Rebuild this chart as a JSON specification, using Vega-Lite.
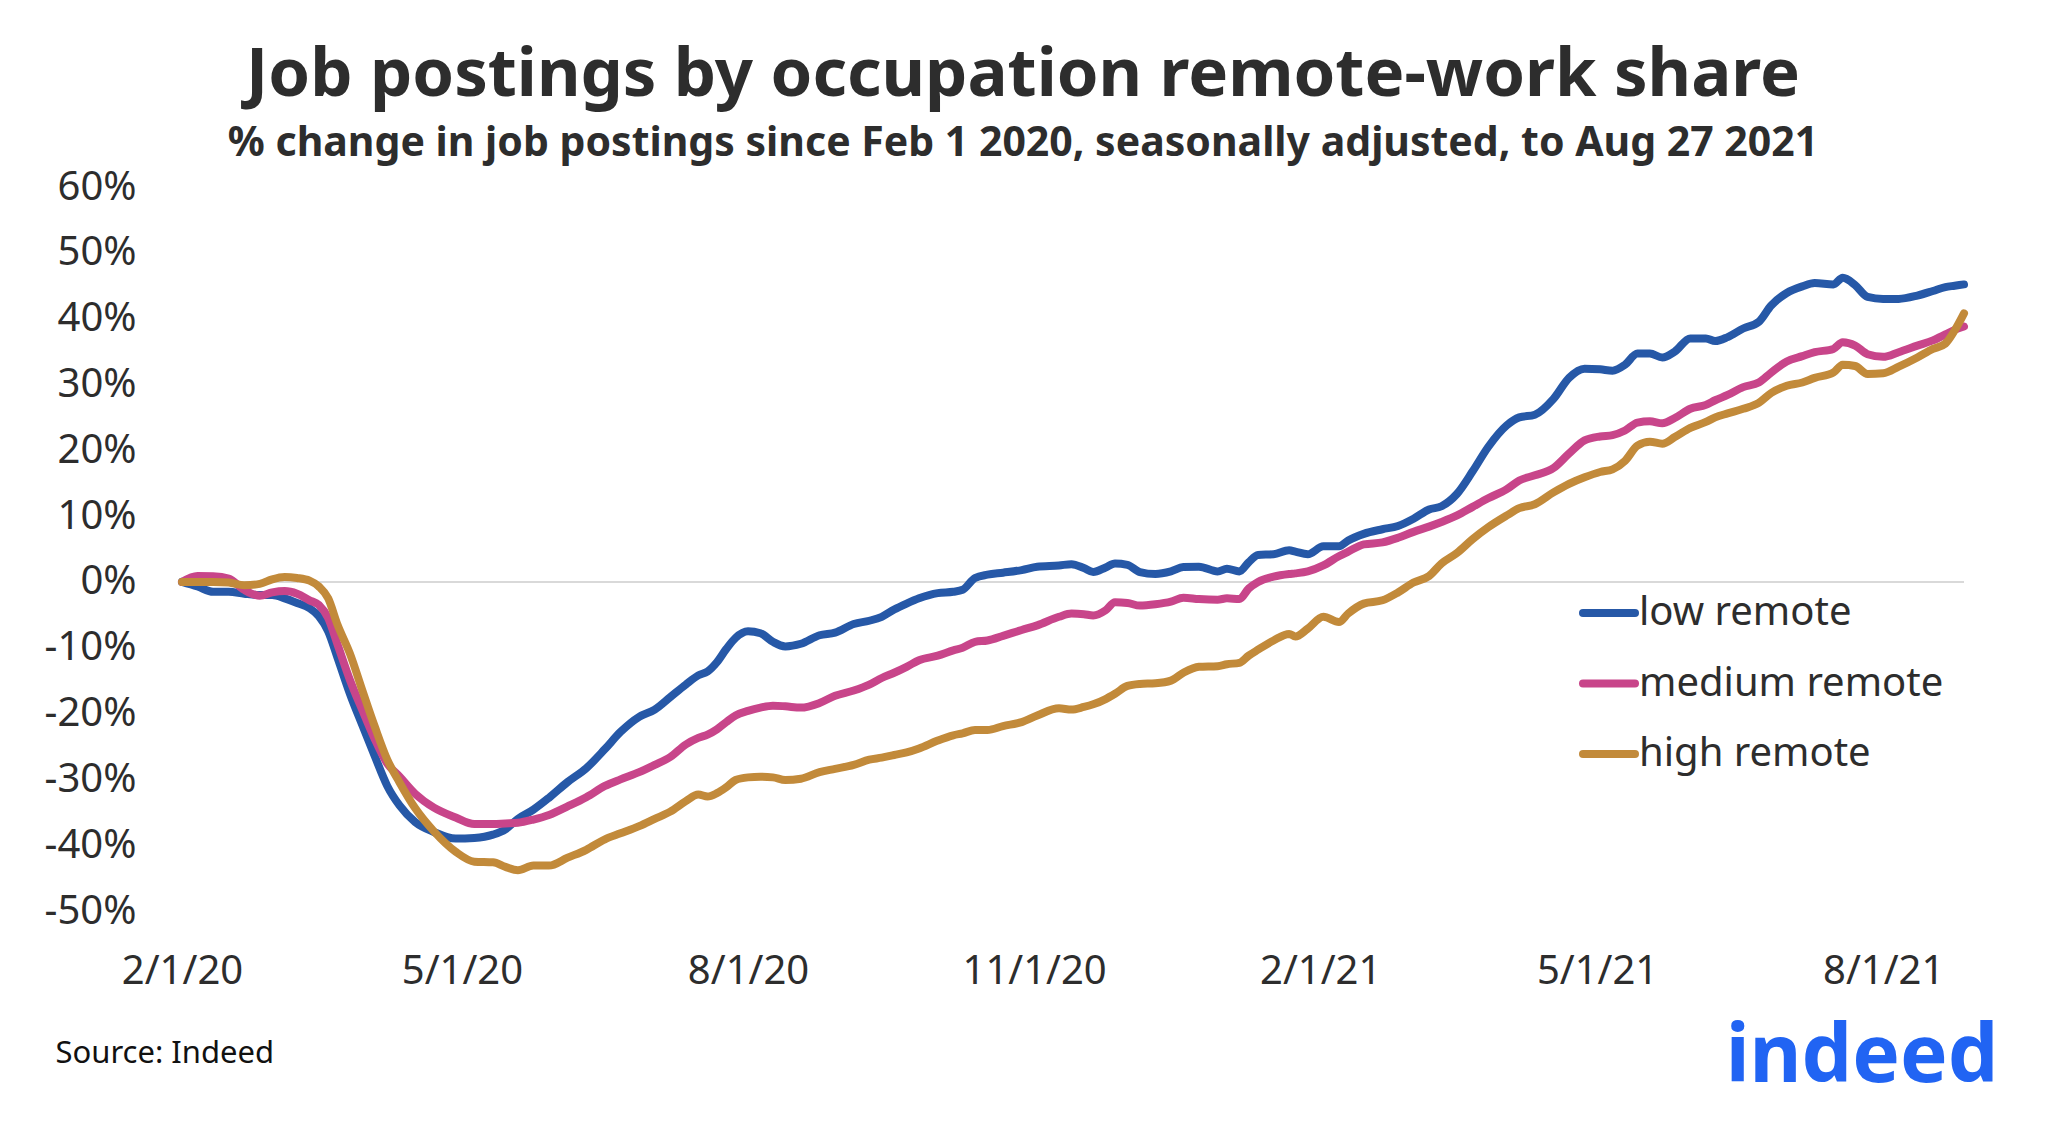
{
  "$schema": "https://vega.github.io/schema/vega-lite/v6.json",
  "width": 1782,
  "height": 724,
  "autosize": {"type": "none"},
  "padding": {"left": 182, "top": 187, "right": 84, "bottom": 211},
  "background": "white",
  "config": {"font": "Noto Sans", "view": {"stroke": null}},
  "title": {
    "text": "Job postings by occupation remote-work share",
    "subtitle": "% change in job postings since Feb 1 2020, seasonally adjusted, to Aug 27 2021",
    "fontSize": 67,
    "fontWeight": "bold",
    "color": "#2d2d2d",
    "subtitleFontSize": 41,
    "subtitleFontWeight": "bold",
    "subtitleColor": "#2d2d2d",
    "anchor": "middle",
    "dx": -50,
    "offset": 2,
    "subtitlePadding": 14
  },
  "datasets": {
    "postings": [
      {"date": "2020-02-01", "low remote": 0, "medium remote": 0, "high remote": 0},
      {"date": "2020-02-06", "low remote": -0.7, "medium remote": 0.9, "high remote": 0},
      {"date": "2020-02-11", "low remote": -1.5, "medium remote": 0.85, "high remote": 0},
      {"date": "2020-02-16", "low remote": -1.5, "medium remote": 0.5, "high remote": -0.1},
      {"date": "2020-02-21", "low remote": -1.8, "medium remote": -1.2, "high remote": -0.5},
      {"date": "2020-02-26", "low remote": -2.0, "medium remote": -2.1, "high remote": -0.3},
      {"date": "2020-03-01", "low remote": -2.0, "medium remote": -1.6, "high remote": 0.4},
      {"date": "2020-03-05", "low remote": -2.5, "medium remote": -1.4, "high remote": 0.75},
      {"date": "2020-03-09", "low remote": -3.2, "medium remote": -1.8, "high remote": 0.6},
      {"date": "2020-03-13", "low remote": -4.0, "medium remote": -2.8, "high remote": 0.2},
      {"date": "2020-03-16", "low remote": -5.2, "medium remote": -3.5, "high remote": -0.7},
      {"date": "2020-03-19", "low remote": -7.5, "medium remote": -5.5, "high remote": -2.5},
      {"date": "2020-03-22", "low remote": -11.5, "medium remote": -9.5, "high remote": -6.5},
      {"date": "2020-03-26", "low remote": -17.0, "medium remote": -14.9, "high remote": -10.9},
      {"date": "2020-03-30", "low remote": -21.8, "medium remote": -19.5, "high remote": -16.5},
      {"date": "2020-04-03", "low remote": -26.5, "medium remote": -23.9, "high remote": -22.0},
      {"date": "2020-04-07", "low remote": -31.0, "medium remote": -27.6, "high remote": -27.0},
      {"date": "2020-04-11", "low remote": -34.0, "medium remote": -29.6, "high remote": -30.5},
      {"date": "2020-04-16", "low remote": -36.5, "medium remote": -32.2, "high remote": -34.4},
      {"date": "2020-04-22", "low remote": -38.0, "medium remote": -34.3, "high remote": -37.9},
      {"date": "2020-04-29", "low remote": -39.0, "medium remote": -35.8, "high remote": -41.0},
      {"date": "2020-05-05", "low remote": -38.9, "medium remote": -36.8, "high remote": -42.5},
      {"date": "2020-05-11", "low remote": -38.4, "medium remote": -36.8, "high remote": -42.6},
      {"date": "2020-05-15", "low remote": -37.6, "medium remote": -36.7, "high remote": -43.3},
      {"date": "2020-05-19", "low remote": -36.0, "medium remote": -36.6, "high remote": -43.8},
      {"date": "2020-05-24", "low remote": -34.6, "medium remote": -36.1, "high remote": -43.1},
      {"date": "2020-05-29", "low remote": -32.8, "medium remote": -35.4, "high remote": -43.1},
      {"date": "2020-06-04", "low remote": -30.4, "medium remote": -34.1, "high remote": -41.9},
      {"date": "2020-06-10", "low remote": -28.3, "medium remote": -32.7, "high remote": -40.7},
      {"date": "2020-06-16", "low remote": -25.4, "medium remote": -31.0, "high remote": -39.1},
      {"date": "2020-06-21", "low remote": -22.8, "medium remote": -30.0, "high remote": -38.2},
      {"date": "2020-06-27", "low remote": -20.5, "medium remote": -28.9, "high remote": -37.1},
      {"date": "2020-07-02", "low remote": -19.4, "medium remote": -27.8, "high remote": -36.0},
      {"date": "2020-07-07", "low remote": -17.5, "medium remote": -26.6, "high remote": -34.9},
      {"date": "2020-07-12", "low remote": -15.6, "medium remote": -24.7, "high remote": -33.3},
      {"date": "2020-07-16", "low remote": -14.2, "medium remote": -23.7, "high remote": -32.3},
      {"date": "2020-07-19", "low remote": -13.6, "medium remote": -23.2, "high remote": -32.6},
      {"date": "2020-07-22", "low remote": -12.2, "medium remote": -22.4, "high remote": -32.1},
      {"date": "2020-07-25", "low remote": -10.2, "medium remote": -21.3, "high remote": -31.2},
      {"date": "2020-07-28", "low remote": -8.5, "medium remote": -20.3, "high remote": -30.1},
      {"date": "2020-08-01", "low remote": -7.5, "medium remote": -19.6, "high remote": -29.7},
      {"date": "2020-08-05", "low remote": -7.8, "medium remote": -19.1, "high remote": -29.6},
      {"date": "2020-08-09", "low remote": -9.1, "medium remote": -18.8, "high remote": -29.7},
      {"date": "2020-08-13", "low remote": -9.8, "medium remote": -18.9, "high remote": -30.1},
      {"date": "2020-08-18", "low remote": -9.4, "medium remote": -19.1, "high remote": -29.9},
      {"date": "2020-08-24", "low remote": -8.1, "medium remote": -18.4, "high remote": -28.9},
      {"date": "2020-08-29", "low remote": -7.7, "medium remote": -17.3, "high remote": -28.4},
      {"date": "2020-09-04", "low remote": -6.4, "medium remote": -16.5, "high remote": -27.8},
      {"date": "2020-09-09", "low remote": -5.9, "medium remote": -15.6, "high remote": -27.0},
      {"date": "2020-09-13", "low remote": -5.3, "medium remote": -14.6, "high remote": -26.7},
      {"date": "2020-09-17", "low remote": -4.2, "medium remote": -13.8, "high remote": -26.3},
      {"date": "2020-09-21", "low remote": -3.3, "medium remote": -12.9, "high remote": -25.9},
      {"date": "2020-09-25", "low remote": -2.5, "medium remote": -11.9, "high remote": -25.3},
      {"date": "2020-10-01", "low remote": -1.7, "medium remote": -11.2, "high remote": -24.1},
      {"date": "2020-10-06", "low remote": -1.5, "medium remote": -10.4, "high remote": -23.3},
      {"date": "2020-10-09", "low remote": -1.2, "medium remote": -10.0, "high remote": -23.0},
      {"date": "2020-10-13", "low remote": 0.6, "medium remote": -9.1, "high remote": -22.5},
      {"date": "2020-10-17", "low remote": 1.1, "medium remote": -8.9, "high remote": -22.5},
      {"date": "2020-10-22", "low remote": 1.4, "medium remote": -8.2, "high remote": -21.9},
      {"date": "2020-10-28", "low remote": 1.8, "medium remote": -7.3, "high remote": -21.3},
      {"date": "2020-11-02", "low remote": 2.3, "medium remote": -6.6, "high remote": -20.3},
      {"date": "2020-11-09", "low remote": 2.5, "medium remote": -5.3, "high remote": -19.2},
      {"date": "2020-11-13", "low remote": 2.7, "medium remote": -4.8, "high remote": -19.4},
      {"date": "2020-11-17", "low remote": 2.1, "medium remote": -4.9, "high remote": -19.0},
      {"date": "2020-11-20", "low remote": 1.5, "medium remote": -5.1, "high remote": -18.6},
      {"date": "2020-11-24", "low remote": 2.2, "medium remote": -4.3, "high remote": -17.8},
      {"date": "2020-11-27", "low remote": 2.8, "medium remote": -3.1, "high remote": -17.0},
      {"date": "2020-12-01", "low remote": 2.6, "medium remote": -3.2, "high remote": -15.8},
      {"date": "2020-12-05", "low remote": 1.5, "medium remote": -3.6, "high remote": -15.5},
      {"date": "2020-12-10", "low remote": 1.2, "medium remote": -3.4, "high remote": -15.4},
      {"date": "2020-12-15", "low remote": 1.6, "medium remote": -3.0, "high remote": -15.0},
      {"date": "2020-12-19", "low remote": 2.25, "medium remote": -2.4, "high remote": -13.8},
      {"date": "2020-12-24", "low remote": 2.3, "medium remote": -2.6, "high remote": -12.9},
      {"date": "2020-12-30", "low remote": 1.6, "medium remote": -2.7, "high remote": -12.8},
      {"date": "2021-01-02", "low remote": 2.0, "medium remote": -2.5, "high remote": -12.5},
      {"date": "2021-01-06", "low remote": 1.6, "medium remote": -2.6, "high remote": -12.3},
      {"date": "2021-01-09", "low remote": 3.0, "medium remote": -1.0, "high remote": -11.2},
      {"date": "2021-01-12", "low remote": 4.1, "medium remote": 0.0, "high remote": -10.3},
      {"date": "2021-01-17", "low remote": 4.2, "medium remote": 0.8, "high remote": -8.9},
      {"date": "2021-01-22", "low remote": 4.8, "medium remote": 1.2, "high remote": -7.9},
      {"date": "2021-01-24", "low remote": 4.6, "medium remote": 1.3, "high remote": -8.3},
      {"date": "2021-01-28", "low remote": 4.2, "medium remote": 1.6, "high remote": -7.1},
      {"date": "2021-02-02", "low remote": 5.4, "medium remote": 2.5, "high remote": -5.3},
      {"date": "2021-02-07", "low remote": 5.4, "medium remote": 3.9, "high remote": -6.1},
      {"date": "2021-02-10", "low remote": 6.3, "medium remote": 4.6, "high remote": -4.8},
      {"date": "2021-02-15", "low remote": 7.3, "medium remote": 5.7, "high remote": -3.3},
      {"date": "2021-02-21", "low remote": 8.0, "medium remote": 6.0, "high remote": -2.8},
      {"date": "2021-02-26", "low remote": 8.5, "medium remote": 6.7, "high remote": -1.6},
      {"date": "2021-03-03", "low remote": 9.6, "medium remote": 7.6, "high remote": -0.1},
      {"date": "2021-03-08", "low remote": 11.0, "medium remote": 8.4, "high remote": 0.9},
      {"date": "2021-03-12", "low remote": 11.5, "medium remote": 9.1, "high remote": 2.8},
      {"date": "2021-03-17", "low remote": 13.4, "medium remote": 10.1, "high remote": 4.4},
      {"date": "2021-03-22", "low remote": 16.8, "medium remote": 11.4, "high remote": 6.5},
      {"date": "2021-03-27", "low remote": 20.5, "medium remote": 12.7, "high remote": 8.3},
      {"date": "2021-04-02", "low remote": 23.8, "medium remote": 14.1, "high remote": 10.1},
      {"date": "2021-04-06", "low remote": 25.0, "medium remote": 15.4, "high remote": 11.2},
      {"date": "2021-04-11", "low remote": 25.4, "medium remote": 16.2, "high remote": 11.8},
      {"date": "2021-04-17", "low remote": 27.8, "medium remote": 17.3, "high remote": 13.6},
      {"date": "2021-04-22", "low remote": 31.0, "medium remote": 19.5, "high remote": 14.9},
      {"date": "2021-04-27", "low remote": 32.4, "medium remote": 21.5, "high remote": 15.9},
      {"date": "2021-05-02", "low remote": 32.3, "medium remote": 22.1, "high remote": 16.7},
      {"date": "2021-05-06", "low remote": 32.1, "medium remote": 22.3, "high remote": 17.1},
      {"date": "2021-05-10", "low remote": 33.0, "medium remote": 23.0, "high remote": 18.4},
      {"date": "2021-05-14", "low remote": 34.7, "medium remote": 24.2, "high remote": 20.7},
      {"date": "2021-05-18", "low remote": 34.7, "medium remote": 24.4, "high remote": 21.3},
      {"date": "2021-05-22", "low remote": 34.1, "medium remote": 24.1, "high remote": 21.0},
      {"date": "2021-05-26", "low remote": 35.0, "medium remote": 24.9, "high remote": 22.0},
      {"date": "2021-05-31", "low remote": 37.0, "medium remote": 26.3, "high remote": 23.4},
      {"date": "2021-06-05", "low remote": 37.0, "medium remote": 26.9, "high remote": 24.3},
      {"date": "2021-06-08", "low remote": 36.6, "medium remote": 27.6, "high remote": 25.0},
      {"date": "2021-06-12", "low remote": 37.2, "medium remote": 28.4, "high remote": 25.6},
      {"date": "2021-06-17", "low remote": 38.5, "medium remote": 29.6, "high remote": 26.3},
      {"date": "2021-06-22", "low remote": 39.5, "medium remote": 30.3, "high remote": 27.2},
      {"date": "2021-06-26", "low remote": 42.0, "medium remote": 31.8, "high remote": 28.7},
      {"date": "2021-07-01", "low remote": 43.9, "medium remote": 33.5, "high remote": 29.8},
      {"date": "2021-07-06", "low remote": 44.9, "medium remote": 34.3, "high remote": 30.3},
      {"date": "2021-07-10", "low remote": 45.4, "medium remote": 34.9, "high remote": 31.0},
      {"date": "2021-07-16", "low remote": 45.2, "medium remote": 35.4, "high remote": 31.8},
      {"date": "2021-07-19", "low remote": 46.2, "medium remote": 36.4, "high remote": 33.0},
      {"date": "2021-07-23", "low remote": 45.1, "medium remote": 35.9, "high remote": 32.8},
      {"date": "2021-07-27", "low remote": 43.3, "medium remote": 34.6, "high remote": 31.6},
      {"date": "2021-08-01", "low remote": 43.0, "medium remote": 34.2, "high remote": 31.7},
      {"date": "2021-08-06", "low remote": 43.0, "medium remote": 34.9, "high remote": 32.7},
      {"date": "2021-08-12", "low remote": 43.5, "medium remote": 35.9, "high remote": 34.1},
      {"date": "2021-08-17", "low remote": 44.2, "medium remote": 36.7, "high remote": 35.4},
      {"date": "2021-08-21", "low remote": 44.8, "medium remote": 37.6, "high remote": 36.2},
      {"date": "2021-08-24", "low remote": 45.0, "medium remote": 38.3, "high remote": 38.2},
      {"date": "2021-08-27", "low remote": 45.2, "medium remote": 38.8, "high remote": 40.8}
    ]
  },
  "layer": [
    {
      "data": {"values": [{"zero": 0}]},
      "mark": {"type": "rule", "color": "#d9d9d9", "strokeWidth": 2},
      "encoding": {
        "y": {"field": "zero", "type": "quantitative"}
      }
    },
    {
      "data": {"name": "postings"},
      "transform": [
        {"fold": ["low remote", "medium remote", "high remote"], "as": ["series", "value"]}
      ],
      "mark": {"type": "line", "strokeWidth": 8, "interpolate": "monotone", "strokeCap": "round", "strokeJoin": "round"},
      "encoding": {
        "x": {
          "field": "date",
          "type": "temporal",
          "scale": {
            "type": "utc",
            "domain": [
              {"year": 2020, "month": 2, "date": 1, "utc": true},
              {"year": 2021, "month": 8, "date": 27, "utc": true}
            ],
            "nice": false
          },
          "axis": {
            "title": "Source: Indeed",
            "values": [
              {"year": 2020, "month": 2, "date": 1, "utc": true},
              {"year": 2020, "month": 5, "date": 1, "utc": true},
              {"year": 2020, "month": 8, "date": 1, "utc": true},
              {"year": 2020, "month": 11, "date": 1, "utc": true},
              {"year": 2021, "month": 2, "date": 1, "utc": true},
              {"year": 2021, "month": 5, "date": 1, "utc": true},
              {"year": 2021, "month": 8, "date": 1, "utc": true}
            ],
            "format": "%-m/%-d/%y",
            "labelFontSize": 40,
            "labelColor": "#2d2d2d",
            "labelFlush": false,
            "labelOverlap": false,
            "labelPadding": 40,
            "domain": false,
            "ticks": false,
            "grid": false,
            "titleFontSize": 31,
            "titleFontWeight": "normal",
            "titleColor": "#111111",
            "titleAnchor": "start",
            "titleAlign": "left",
            "titleBaseline": "middle",
            "titleX": -127,
            "titleY": 142
          }
        },
        "y": {
          "field": "value",
          "type": "quantitative",
          "scale": {"domain": [-50, 60], "nice": false, "zero": false},
          "axis": {
            "title": null,
            "values": [-50, -40, -30, -20, -10, 0, 10, 20, 30, 40, 50, 60],
            "labelExpr": "datum.value + '%'",
            "labelFontSize": 40,
            "labelColor": "#2d2d2d",
            "labelPadding": 46,
            "domain": false,
            "ticks": false,
            "grid": false
          }
        },
        "color": {
          "field": "series",
          "type": "nominal",
          "scale": {
            "domain": ["low remote", "medium remote", "high remote"],
            "range": ["#2658a7", "#c8458a", "#c28a3a"]
          },
          "legend": {
            "title": null,
            "orient": "none",
            "legendX": 1397,
            "legendY": 396,
            "symbolType": "stroke",
            "symbolSize": 2704,
            "symbolStrokeWidth": 8,
            "labelFontSize": 40,
            "labelLimit": 0,
            "labelColor": "#2d2d2d",
            "labelOffset": 0,
            "rowPadding": 20.5,
            "padding": 0,
            "encode": {"symbols": {"update": {"strokeCap": {"value": "round"}, "strokeWidth": {"value": 8}}}}
          }
        }
      }
    },
    {
      "data": {"values": [{"logo": "indeed"}]},
      "mark": {"type": "text", "align": "right", "baseline": "alphabetic", "fontSize": 80, "fontWeight": "bold", "color": "#2164f3", "font": "Noto Sans"},
      "encoding": {
        "text": {"field": "logo"},
        "x": {"datum": {"year": 2021, "month": 9, "date": 7, "utc": true}, "type": "temporal"},
        "y": {"datum": -76, "type": "quantitative"}
      }
    }
  ]
}
